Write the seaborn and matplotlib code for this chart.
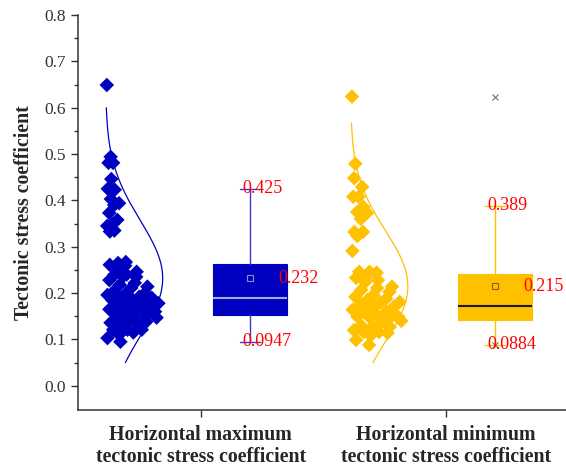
import numpy as np
import seaborn as sns
import matplotlib
matplotlib.use("Agg")
import matplotlib.pyplot as plt

# values
groups = ["Horizontal maximum\ntectonic stress coefficient",
          "Horizontal minimum\ntectonic stress coefficient"]

max_coef = [0.649, 0.494, 0.481, 0.481, 0.446, 0.425, 0.423, 0.403, 0.394, 0.390,
            0.373, 0.358, 0.349, 0.345, 0.335, 0.333, 0.267, 0.265, 0.261, 0.259,
            0.252, 0.246, 0.240, 0.239, 0.235, 0.235, 0.228, 0.222, 0.218, 0.214,
            0.211, 0.205, 0.200, 0.200, 0.196, 0.192, 0.190, 0.190, 0.187, 0.185,
            0.181, 0.181, 0.178, 0.175, 0.175, 0.172, 0.168, 0.165, 0.164, 0.160,
            0.160, 0.157, 0.157, 0.152, 0.149, 0.147, 0.142, 0.142, 0.138, 0.136,
            0.136, 0.132, 0.126, 0.121, 0.121, 0.121, 0.115, 0.110, 0.103, 0.095]

min_coef = [0.624, 0.479, 0.448, 0.429, 0.408, 0.408, 0.386, 0.375, 0.373, 0.360,
            0.332, 0.332, 0.323, 0.291, 0.246, 0.246, 0.244, 0.238, 0.233, 0.228,
            0.224, 0.214, 0.211, 0.207, 0.203, 0.196, 0.192, 0.188, 0.185, 0.181,
            0.179, 0.175, 0.170, 0.168, 0.164, 0.160, 0.157, 0.149, 0.149, 0.149,
            0.147, 0.147, 0.140, 0.136, 0.130, 0.127, 0.127, 0.120, 0.116, 0.116,
            0.114, 0.108, 0.099, 0.088]

# box statistics shown in the chart
box_q1 = [0.153, 0.143]
box_med = [0.190, 0.173]
box_q3 = [0.262, 0.241]
box_mean = [0.232, 0.215]
box_low = [0.0947, 0.0884]
box_high = [0.425, 0.389]
box_marks = [[], [0.624, 0.0884]]

# normal curves drawn beside the points
curve_sd = [0.125, 0.12]
curve_top = [0.600, 0.567]
curve_bottom = [0.05, 0.05]

colors = ["#0000C0", "#FFC000"]
whisker_colors = ["#3A3AC8", "#FFC000"]
median_colors = ["#A8A8E8", "#1a1a1a"]
mean_edge = ["#9090D0", "#806020"]

sns.set_style("ticks")
plt.rcParams['font.family'] = ['Liberation Serif', 'DejaVu Serif']

fig = plt.figure(figsize=(5.66, 4.69), dpi=100)
ax = fig.add_axes([0.138, 0.126, 0.862, 0.842])

data = [max_coef, min_coef]
for i, vals in enumerate(data):
    pos = i + 1
    vals = np.array(vals)
    mu, sd = box_mean[i], curve_sd[i]
    base = pos - 0.388
    amp = 0.233

    # normal curve on the left side
    yy = np.linspace(curve_bottom[i], curve_top[i], 200)
    dens = np.exp(-0.5 * ((yy - mu) / sd) ** 2)
    sns.lineplot(x=base + amp * dens, y=yy, sort=False, estimator=None,
                 color=colors[i], lw=0.9, ax=ax)

    # points spread by local point density (deterministic spread)
    kde = np.exp(-0.5 * ((vals[:, None] - vals[None, :]) / 0.035) ** 2).sum(axis=1)
    kde = kde / kde.max()
    frac = (np.arange(len(vals)) * 0.618034) % 1
    xs = base + 0.005 + frac * amp * np.clip(kde, 0.08, 1) * 0.95
    sns.scatterplot(x=xs, y=vals, marker='D', s=55, color=colors[i],
                    edgecolor='none', ax=ax, zorder=3)

    # box
    stats = [dict(q1=box_q1[i], med=box_med[i], q3=box_q3[i], mean=box_mean[i],
                  whislo=box_low[i], whishi=box_high[i], fliers=box_marks[i])]
    ax.bxp(stats, positions=[pos + 0.2], widths=0.3, capwidths=0.08,
           patch_artist=True, showmeans=True,
           boxprops=dict(facecolor=colors[i], edgecolor=colors[i], lw=0.8),
           whiskerprops=dict(color=whisker_colors[i], lw=1),
           capprops=dict(color=whisker_colors[i], lw=1),
           medianprops=dict(color=median_colors[i], lw=1.5),
           meanprops=dict(marker='s', mfc='none', mec=mean_edge[i], ms=4, mew=0.8),
           flierprops=dict(marker='x', mec='#707070', ms=4, mew=0.8))

    # value labels
    tk = dict(color='red', fontsize=13, va='center', ha='left')
    ax.text(pos + 0.2 - 0.03, box_high[i], f"{box_high[i]:g}", **tk)
    ax.text(pos + 0.2 + 0.118, box_mean[i], f"{box_mean[i]:g}", **tk)
    ax.text(pos + 0.2 - 0.03, box_low[i], f"{box_low[i]:g}", **tk)

ax.set_xlim(0.5, 2.49)
ax.set_ylim(-0.052, 0.8)
ax.set_xticks([1, 2])
ax.set_xticklabels(groups, fontweight='bold', fontsize=14.3, linespacing=1.1)
ax.set_yticks(np.arange(0, 0.81, 0.1))
ax.set_yticklabels([f"{v:.1f}" for v in np.arange(0, 0.81, 0.1)], fontsize=12.5, color='#333333')
ax.set_yticks(np.arange(0.05, 0.8, 0.1), minor=True)
ax.set_ylabel("Tectonic stress coefficient", fontweight='bold', fontsize=14.3, labelpad=8)
ax.tick_params(axis='both', which='major', direction='out', length=5, width=1, color='#333333')
ax.tick_params(axis='x', pad=6)
ax.tick_params(axis='y', which='minor', length=3, width=1, color='#333333')
for s in ['top', 'right']:
    ax.spines[s].set_visible(False)
for s in ['left', 'bottom']:
    ax.spines[s].set_color('#333333')
    ax.spines[s].set_linewidth(1.1)

fig.savefig("out.png", dpi=100)
